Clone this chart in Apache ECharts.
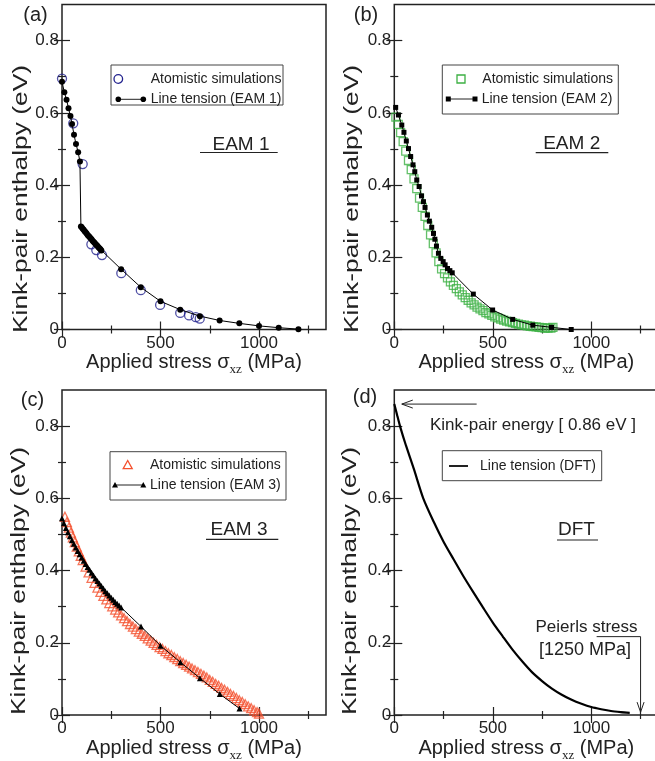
<!DOCTYPE html>
<html>
<head>
<meta charset="utf-8">
<script src="https://cdn.jsdelivr.net/npm/echarts@6/dist/echarts.min.js"></script>
<style>
    html, body { margin: 0; padding: 0; background: #fff; }
    #chart { width: 655px; height: 761px; }
</style>
</head>
<body>
<div id="chart"></div>
<script>
// (a) EAM 1
const aSimX = [0, 57, 105, 149, 174, 203, 301, 400, 498, 600, 645, 679, 699];
const aSimY = [0.695, 0.571, 0.458, 0.236, 0.220, 0.206, 0.156, 0.109, 0.068, 0.046, 0.039, 0.034, 0.030];
const aLtX = [0, 12, 23, 33, 43, 51, 61, 71, 82, 91, 96,
    100, 105, 110, 115, 120, 125, 130, 135, 140, 145, 150, 155, 160, 165, 170, 175, 180, 185, 190, 195, 200,
    300, 400, 500, 600, 700, 800, 900, 1000, 1100, 1200];
const aLtY = [0.686, 0.657, 0.636, 0.613, 0.591, 0.569, 0.539, 0.514, 0.491, 0.465, 0.285,
    0.283, 0.279, 0.276, 0.272, 0.269, 0.266, 0.262, 0.259, 0.256, 0.253, 0.250, 0.246, 0.243, 0.240, 0.237, 0.234, 0.231, 0.228, 0.225, 0.222, 0.219,
    0.167, 0.117, 0.078, 0.055, 0.037, 0.025, 0.017, 0.010, 0.005, 0.001];

// (b) EAM 2
const bSimX = [8, 20, 32, 45, 58, 72, 86, 100, 114, 128, 142, 156, 170, 184, 198, 212,
    226, 240, 255, 270, 285, 300,
    315, 330, 345, 360, 375, 390, 405, 420, 435, 450, 465, 480, 495, 510, 525, 540, 555, 570, 585, 600,
    615, 630, 645, 660, 675, 690, 705, 720, 735, 750, 765, 780, 795, 805];
const bSimY = [0.588, 0.568, 0.545, 0.520, 0.494, 0.468, 0.443, 0.417, 0.390, 0.364, 0.338, 0.313, 0.288, 0.262, 0.238, 0.212,
    0.188, 0.168, 0.155, 0.143, 0.132, 0.122,
    0.113, 0.104, 0.096, 0.088, 0.081, 0.074, 0.068, 0.062, 0.057, 0.052, 0.047, 0.043, 0.039, 0.035, 0.032, 0.029, 0.026, 0.023, 0.021, 0.019,
    0.017, 0.015, 0.013, 0.012, 0.010, 0.009, 0.008, 0.007, 0.006, 0.005, 0.004, 0.004, 0.004, 0.006];
const bLtX = [7, 21, 38, 49, 61, 72, 83, 95, 104, 114, 126, 138, 148, 156, 168, 178, 190, 199, 206, 214,
    224, 236, 248, 258, 270, 282, 294, 401, 499, 601, 703, 798, 898];
const bLtY = [0.615, 0.594, 0.566, 0.546, 0.522, 0.501, 0.479, 0.456, 0.437, 0.414, 0.396, 0.370, 0.354, 0.338, 0.317, 0.300, 0.283, 0.266, 0.250, 0.231,
    0.211, 0.197, 0.188, 0.179, 0.169, 0.163, 0.157, 0.098, 0.054, 0.028, 0.012, 0.006, 0.000];

// (c) EAM 3
const cSimX = [15, 25, 35, 45, 55, 65, 75, 85, 95,
    105, 120, 135, 150, 165, 180, 195, 210, 225, 240,
    255, 270, 285, 300, 315, 330, 345, 360, 375, 390,
    405, 420, 435, 450, 465, 480, 495, 510, 525, 540,
    555, 570, 585, 600, 615, 630, 645, 660, 675, 690,
    705, 720, 735, 750, 765, 780, 795, 810, 825, 840,
    855, 870, 885, 900, 915, 930, 945, 960, 975, 990, 1000];
const cSimY = [0.549, 0.534, 0.519, 0.505, 0.492, 0.479, 0.466, 0.453, 0.441,
    0.429, 0.411, 0.395, 0.380, 0.366, 0.353, 0.341, 0.330, 0.320, 0.310,
    0.301, 0.292, 0.284, 0.276, 0.268, 0.260, 0.252, 0.245, 0.238, 0.231,
    0.225, 0.219, 0.212, 0.206, 0.200, 0.194, 0.188, 0.183, 0.177, 0.171,
    0.166, 0.160, 0.155, 0.149, 0.144, 0.139, 0.134, 0.129, 0.124, 0.119,
    0.114, 0.109, 0.104, 0.097, 0.092, 0.086, 0.081, 0.075, 0.070, 0.064,
    0.058, 0.053, 0.047, 0.041, 0.036, 0.030, 0.024, 0.019, 0.013, 0.008, 0.004];
const cLtX = [0, 10, 20, 30, 40, 50, 60, 70, 80, 90, 100, 110, 120, 130, 140, 150, 160, 170, 180, 190,
    200, 210, 220, 230, 240, 250, 260, 270, 280, 290, 300, 401, 500, 601, 700, 801, 901];
const cLtY = [0.545, 0.531, 0.518, 0.506, 0.495, 0.484, 0.474, 0.464, 0.454, 0.445, 0.436, 0.427, 0.418, 0.410, 0.402, 0.394, 0.386, 0.378, 0.371, 0.364,
    0.357, 0.350, 0.343, 0.337, 0.331, 0.325, 0.319, 0.313, 0.308, 0.303, 0.298, 0.245, 0.192, 0.146, 0.102, 0.058, 0.018];

// (d) DFT
const dX = [0, 15, 30, 60, 100, 147, 200, 250, 300, 350, 400, 450, 500, 550, 600, 650, 700, 750, 800, 850, 900, 950, 1000, 1050, 1100, 1150, 1195];
const dY = [0.861, 0.829, 0.798, 0.745, 0.680, 0.600, 0.535, 0.480, 0.432, 0.385, 0.341, 0.298, 0.256, 0.218, 0.181, 0.148, 0.118, 0.094, 0.073, 0.056, 0.042, 0.031, 0.022, 0.016, 0.011, 0.008, 0.006];

// ticks
const xMajor = [0, 500, 1000];
const xMinor = [250, 750, 1250];
const yMajor = [0, 0.2, 0.4, 0.6, 0.8];
const yMinor = [0.1, 0.3, 0.5, 0.7];
const X_MAX = 1340;
const Y_MAX = 0.9;

const FONT = '"Liberation Sans", Arial, Helvetica, sans-serif';
const SERIF = '"Liberation Serif", "Times New Roman", serif';
const INK = '#222';

const pairs = (xs, ys) => xs.map((x, i) => [x, ys[i]]);

const grids = [
    { left: 62, top: 4.5, width: 264, height: 325 },
    { left: 394.3, top: 4.5, width: 264, height: 325 },
    { left: 62, top: 390, width: 264, height: 325 },
    { left: 394.3, top: 390, width: 264, height: 325 }
];

const xAxes = [];
const yAxes = [];

const makeAxes = (gi, nameGap) => {
    const tickStyle = { color: INK, width: 1.2 };
    const base = { gridIndex: gi, type: 'value', splitLine: { show: false }, axisLine: { show: false } };
    const xb = { ...base, min: 0, max: X_MAX };
    const yb = { ...base, min: 0, max: Y_MAX };
    xAxes.push(
        {
            ...xb, position: 'bottom',
            axisTick: { inside: true, length: 8, customValues: xMajor, lineStyle: tickStyle },
            axisLabel: {
                customValues: xMajor, margin: 5, fontSize: 17, fontFamily: FONT, color: INK,
                formatter: v => String(v)
            },
            name: '{a|Applied stress σ}{s|xz}{a| (MPa)}',
            nameLocation: 'middle',
            nameGap: nameGap,
            nameTextStyle: {
                rich: {
                    a: { fontSize: 20, fontFamily: FONT, color: INK, lineHeight: 28 },
                    s: { fontSize: 13, fontFamily: SERIF, color: INK, lineHeight: 14, verticalAlign: 'bottom' }
                }
            }
        },
        { ...xb, position: 'bottom', axisTick: { inside: true, length: 4, customValues: xMinor, lineStyle: tickStyle }, axisLabel: { show: false } },
        { ...xb, position: 'top', axisTick: { inside: true, length: 8, customValues: xMajor, lineStyle: tickStyle }, axisLabel: { show: false } },
        { ...xb, position: 'top', axisTick: { inside: true, length: 4, customValues: xMinor, lineStyle: tickStyle }, axisLabel: { show: false } }
    );
    yAxes.push(
        {
            ...yb, position: 'left',
            axisTick: { inside: true, length: 8, customValues: yMajor, lineStyle: tickStyle },
            axisLabel: {
                customValues: yMajor, margin: 3, fontSize: 17, fontFamily: FONT, color: INK,
                formatter: v => (v === 0 ? '0' : v.toFixed(1))
            }
        },
        { ...yb, position: 'left', axisTick: { inside: true, length: 4, customValues: yMinor, lineStyle: tickStyle }, axisLabel: { show: false } },
        { ...yb, position: 'right', axisTick: { inside: true, length: 8, customValues: yMajor, lineStyle: tickStyle }, axisLabel: { show: false } },
        { ...yb, position: 'right', axisTick: { inside: true, length: 4, customValues: yMinor, lineStyle: tickStyle }, axisLabel: { show: false } }
    );
};

makeAxes(0, 17);
makeAxes(1, 17);
makeAxes(2, 19);
makeAxes(3, 19);

const simSeries = (gi, xs, ys, symbol, size, color) => ({
    type: 'scatter',
    xAxisIndex: gi * 4,
    yAxisIndex: gi * 4,
    data: pairs(xs, ys),
    symbol: symbol,
    symbolSize: size,
    itemStyle: { color: 'rgba(0,0,0,0)', borderColor: color, borderWidth: 1.3 },
    z: 2
});

const ltSeries = (gi, xs, ys, symbol, size) => ({
    type: 'line',
    xAxisIndex: gi * 4,
    yAxisIndex: gi * 4,
    data: pairs(xs, ys),
    symbol: symbol,
    symbolSize: size,
    showSymbol: true,
    showAllSymbol: true,
    lineStyle: { color: '#000', width: 1 },
    itemStyle: { color: '#000', borderWidth: 0 },
    z: 3
});

const series = [
    simSeries(0, aSimX, aSimY, 'circle', 9, '#23238e'),
    ltSeries(0, aLtX, aLtY, 'circle', 6),
    simSeries(1, bSimX, bSimY, 'rect', 8, '#3cb043'),
    ltSeries(1, bLtX, bLtY, 'rect', 5),
    simSeries(2, cSimX, cSimY, 'triangle', 9, '#f4502e'),
    ltSeries(2, cLtX, cLtY, 'triangle', 6),
    {
        type: 'line',
        xAxisIndex: 12,
        yAxisIndex: 12,
        data: pairs(dX, dY),
        showSymbol: false,
        smooth: 0.25,
        lineStyle: { color: '#000', width: 2.2 },
        z: 3
    }
];

// static texts, legends
const txt = (x, y, text, size, align, extra) => ({
    type: 'text', x: x, y: y, z: 20,
    style: Object.assign({
        text: text, fontSize: size, fontFamily: FONT, fill: INK,
        align: align, textAlign: align, verticalAlign: 'middle', textVerticalAlign: 'middle'
    }, extra || {})
});
const seg = (x1, y1, x2, y2, w) => ({
    type: 'line', z: 20, shape: { x1, y1, x2, y2 }, style: { stroke: INK, lineWidth: w || 1 }
});
const box = (x, y, w, h) => ({
    type: 'rect', z: 19, shape: { x, y, width: w, height: h }, style: { fill: '#fff', stroke: '#444', lineWidth: 1 }
});

const yTitle = (x, y) => ({
    type: 'text', x: x, y: y, rotation: Math.PI / 2, scaleX: 1.255, z: 20,
    style: {
        text: 'Kink-pair enthalpy (eV)', fontSize: 21, fontFamily: FONT, fill: INK,
        align: 'center', textAlign: 'center', verticalAlign: 'middle', textVerticalAlign: 'middle'
    }
});

const tri = (cx, cy, r, fill, stroke) => ({
    type: 'polygon', z: 21,
    shape: { points: [[cx, cy - r], [cx + r, cy + r * 0.8], [cx - r, cy + r * 0.8]] },
    style: { fill: fill, stroke: stroke, lineWidth: stroke ? 1.3 : 0 }
});

const staticGraphic = [
    yTitle(21, 199), yTitle(352.5, 199), yTitle(19, 581), yTitle(350.5, 581),
    txt(35.5, 15, '(a)', 20, 'center'),
    txt(366, 15, '(b)', 20, 'center'),
    txt(32.5, 400, '(c)', 20, 'center'),
    txt(365, 397, '(d)', 20, 'center'),

    // legend a
    box(111, 65, 172, 40),
    { type: 'circle', z: 21, shape: { cx: 118.3, cy: 79, r: 4.3 }, style: { fill: 'none', stroke: '#23238e', lineWidth: 1.3 } },
    txt(150.7, 79, 'Atomistic simulations', 14, 'left'),
    seg(118.3, 99.3, 143.3, 99.3, 1),
    { type: 'circle', z: 21, shape: { cx: 118.3, cy: 99.3, r: 2.8 }, style: { fill: '#000' } },
    { type: 'circle', z: 21, shape: { cx: 143.3, cy: 99.3, r: 2.8 }, style: { fill: '#000' } },
    txt(150.7, 99.3, 'Line tension (EAM 1)', 14, 'left'),
    txt(241, 145, 'EAM 1', 19, 'center'),
    seg(200, 152.5, 277.7, 152.5, 1.2),

    // legend b
    box(442.3, 65, 176, 49),
    { type: 'rect', z: 21, shape: { x: 457, y: 75, width: 8, height: 8 }, style: { fill: 'none', stroke: '#3cb043', lineWidth: 1.3 } },
    txt(482.3, 79, 'Atomistic simulations', 14, 'left'),
    seg(448.3, 99, 475, 99, 1),
    { type: 'rect', z: 21, shape: { x: 445.8, y: 96.5, width: 5, height: 5 }, style: { fill: '#000' } },
    { type: 'rect', z: 21, shape: { x: 472.5, y: 96.5, width: 5, height: 5 }, style: { fill: '#000' } },
    txt(481.7, 99, 'Line tension (EAM 2)', 14, 'left'),
    txt(571.7, 143.5, 'EAM 2', 19, 'center'),
    seg(535.7, 152.7, 608.3, 152.7, 1.2),

    // legend c
    box(110, 451.7, 176, 48.3),
    tri(127.7, 465, 4.5, 'none', '#f4502e'),
    txt(150, 465, 'Atomistic simulations', 14, 'left'),
    seg(115, 485, 143.3, 485, 1),
    tri(115, 485, 3, '#000'),
    tri(143.3, 485, 3, '#000'),
    txt(150, 485, 'Line tension (EAM 3)', 14, 'left'),
    txt(239, 529.3, 'EAM 3', 19, 'center'),
    seg(206, 539.3, 278.3, 539.3, 1.2),

    // legend d
    box(442.3, 450.7, 159.4, 30),
    seg(449, 466, 468, 466, 2),
    txt(480, 466, 'Line tension (DFT)', 14, 'left'),
    txt(576.5, 530, 'DFT', 19, 'center'),
    seg(557, 540, 598, 540, 1.2),
    txt(430, 425, 'Kink-pair energy [ 0.86 eV ]', 17, 'left'),
    txt(586.5, 627, 'Peierls stress', 17, 'center'),
    txt(585, 650.5, '[1250 MPa]', 18, 'center')
];

const option = {
    animation: false,
    backgroundColor: '#fff',
    grid: grids.map(g => Object.assign({}, g, {
        show: true, borderColor: INK, borderWidth: 1.5, backgroundColor: 'transparent',
        containLabel: false, outerBoundsMode: 'none'
    })),
    xAxis: xAxes,
    yAxis: yAxes,
    series: series,
    graphic: staticGraphic
};

const chart = echarts.init(document.getElementById('chart'), null, { renderer: 'canvas' });
chart.setOption(option);

// arrows of panel (d), placed in data coordinates
const px = (x, y) => chart.convertToPixel({ gridIndex: 3 }, [x, y]);
const tail = px(418, 0.861);
const tip = px(38, 0.861);
const pStart = px(1027, 0.217);
const pCorner = px(1250, 0.217);
const pEnd = px(1250, 0.008);
const arrowGraphic = [
    seg(tail[0], tail[1], tip[0], tip[1], 1),
    { type: 'polyline', z: 20, shape: { points: [[tip[0] + 11, tip[1] - 4], tip, [tip[0] + 11, tip[1] + 4]] }, style: { stroke: INK, lineWidth: 1, fill: 'none' } },
    { type: 'polyline', z: 20, shape: { points: [pStart, pCorner, pEnd] }, style: { stroke: INK, lineWidth: 1, fill: 'none' } },
    { type: 'polyline', z: 20, shape: { points: [[pEnd[0] - 3.5, pEnd[1] - 10], pEnd, [pEnd[0] + 3.5, pEnd[1] - 10]] }, style: { stroke: INK, lineWidth: 1, fill: 'none' } }
];
chart.setOption({ graphic: staticGraphic.concat(arrowGraphic) });
</script>
</body>
</html>
